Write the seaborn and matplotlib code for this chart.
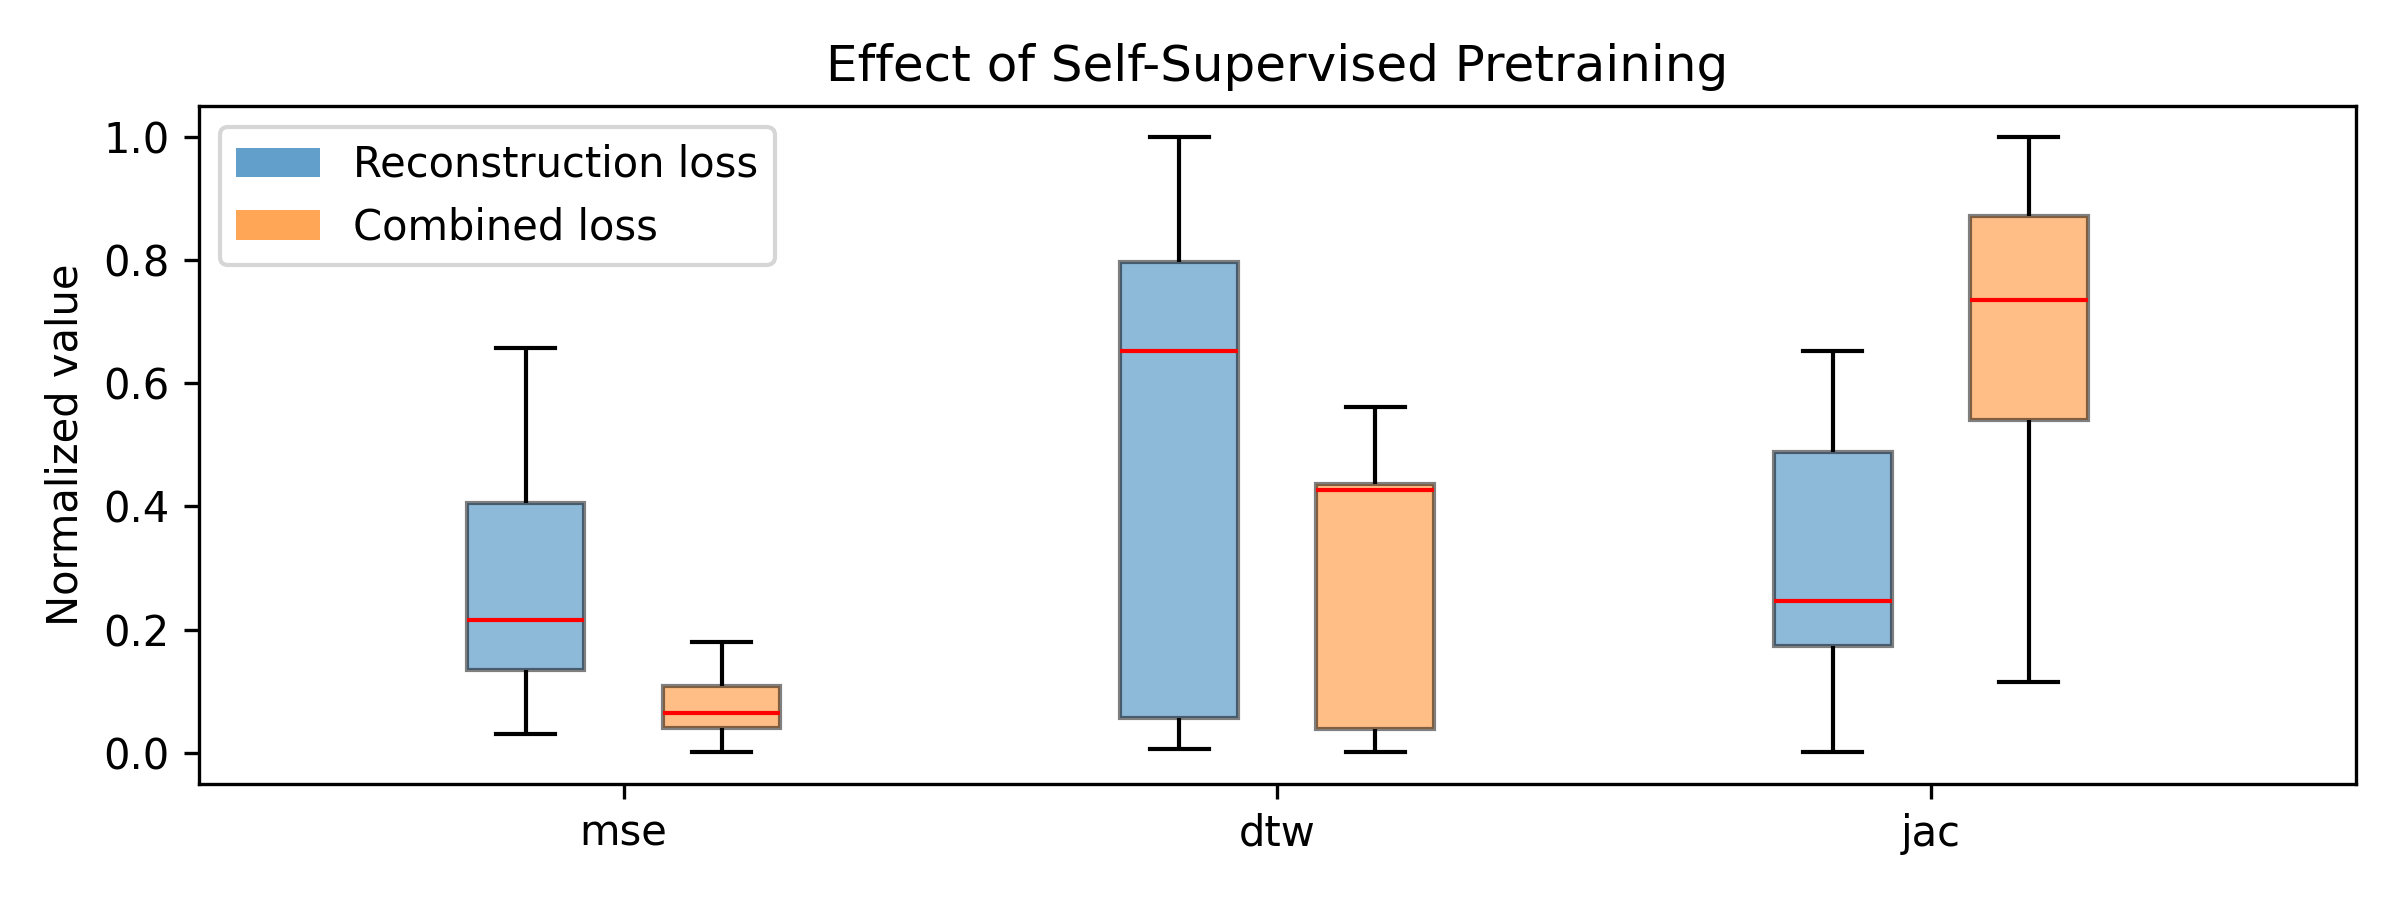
import seaborn as sns
import pandas as pd
import matplotlib.pyplot as plt
from matplotlib.patches import Patch

metrics = ["mse", "dtw", "jac"]
losses = ["Reconstruction loss", "Combined loss"]

# five points per box: whisker low, Q1, median, Q3, whisker high
recon_mse = [0.030, 0.134, 0.215, 0.406, 0.657]
combined_mse = [0.001, 0.041, 0.065, 0.109, 0.180]
recon_dtw = [0.006, 0.056, 0.652, 0.797, 1.000]
combined_dtw = [0.001, 0.039, 0.426, 0.437, 0.562]
recon_jac = [0.001, 0.173, 0.247, 0.489, 0.652]
combined_jac = [0.115, 0.541, 0.736, 0.872, 1.000]

groups = {
    ("mse", losses[0]): recon_mse,
    ("mse", losses[1]): combined_mse,
    ("dtw", losses[0]): recon_dtw,
    ("dtw", losses[1]): combined_dtw,
    ("jac", losses[0]): recon_jac,
    ("jac", losses[1]): combined_jac,
}

rows = []
for (metric, loss), values in groups.items():
    for v in values:
        rows.append({"metric": metric, "loss": loss, "value": v})
df = pd.DataFrame(rows)

fig, ax = plt.subplots(figsize=(8, 3), dpi=300)

sns.boxplot(ax=ax, data=df, x="metric", y="value", hue="loss",
            order=metrics, hue_order=losses, palette=["C0", "C1"],
            saturation=1, width=0.6, gap=0.4, linewidth=1.0,
            linecolor="black", showfliers=False, legend=False,
            medianprops={"color": "red"})

for patch in ax.patches:
    patch.set_alpha(0.5)

handles = [Patch(facecolor="C0", alpha=0.7, label=losses[0]),
           Patch(facecolor="C1", alpha=0.7, label=losses[1])]
ax.legend(handles=handles, loc="upper left")

ax.set_xlim(-0.65, 2.65)
ax.set_ylim(-0.05, 1.05)
ax.set_xlabel("")
ax.set_ylabel("Normalized value")
ax.set_title("Effect of Self-Supervised Pretraining")

fig.subplots_adjust(left=0.0828, right=0.9815, top=0.882, bottom=0.1294)
fig.savefig("out.png", dpi=300)
